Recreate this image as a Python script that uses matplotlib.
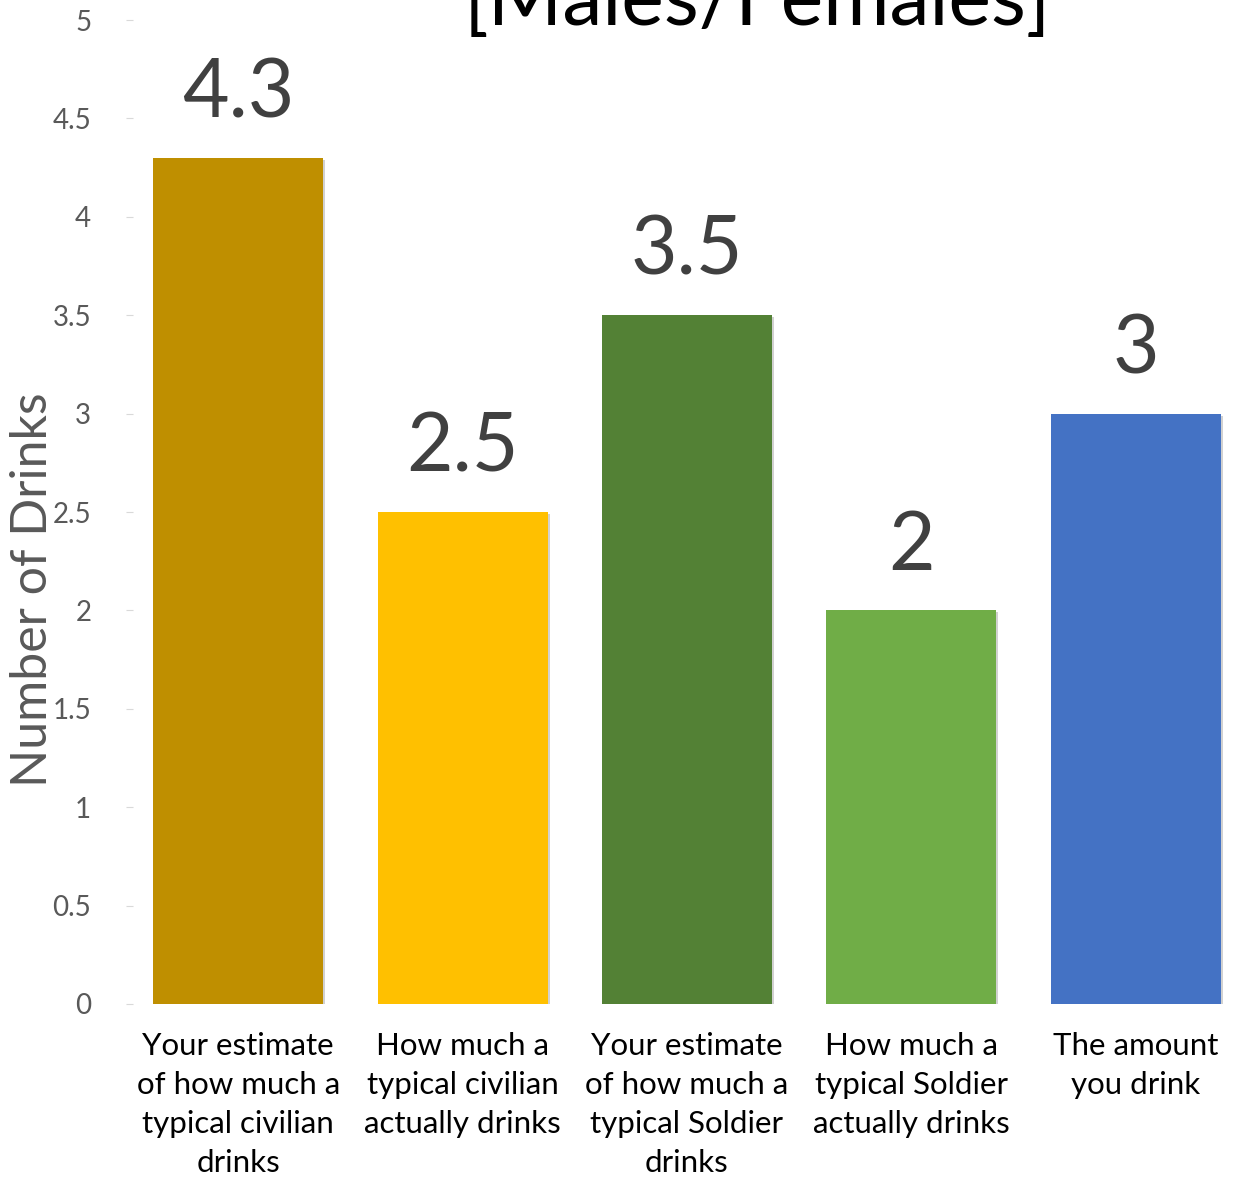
import matplotlib
matplotlib.use("Agg")
import matplotlib.pyplot as plt
import matplotlib.patheffects as pe

plt.rcParams['font.family'] = ['Lato', 'DejaVu Sans']

categories = [
    "Your estimate\nof how much a\ntypical civilian\ndrinks",
    "How much a\ntypical civilian\nactually drinks",
    "Your estimate\nof how much a\ntypical Soldier\ndrinks",
    "How much a\ntypical Soldier\nactually drinks",
    "The amount\nyou drink",
]
values = [4.3, 2.5, 3.5, 2.0, 3.0]
value_labels = ["4.3", "2.5", "3.5", "2", "3"]
colors = ["#BF8F00", "#FFC000", "#538135", "#70AD47", "#4472C4"]
yticks = [0, 0.5, 1, 1.5, 2, 2.5, 3, 3.5, 4, 4.5, 5]
ytick_labels = ["0", "0.5", "1", "1.5", "2", "2.5", "3", "3.5", "4", "4.5", "5"]
title = "[Males/Females]"
ylabel = "Number of Drinks"

W, H = 1237, 1184
fig = plt.figure(figsize=(W / 100, H / 100), dpi=100)
left_px, right_px = 126, 1237
top_px, bottom_px = 20, 1004
ax = fig.add_axes([left_px / W, 1 - bottom_px / H, (right_px - left_px) / W, (bottom_px - top_px) / H])

x = list(range(len(values)))
bars = ax.bar(x, values, width=0.757, color=colors, zorder=3)
for b in bars:
    b.set_path_effects([pe.SimplePatchShadow(offset=(1.5, -1.5), shadow_rgbFace='#000000', alpha=0.18, rho=1.0),
                        pe.Normal()])

step = 224.4
ax.set_xlim(-0.5, -0.5 + (right_px - left_px) / step)
ax.set_ylim(0, 5)

for xi, v, lab in zip(x, values, value_labels):
    ax.annotate(lab, (xi, v), xytext=(0, 29), textcoords='offset points',
                ha='center', va='baseline', fontsize=58, color='#404040')

ax.set_yticks(yticks)
ax.set_yticklabels(ytick_labels, fontsize=20, color='#595959')
ax.tick_params(axis='y', direction='in', length=5, color='#D9D9D9', pad=25)
ax.set_xticks(x)
ax.set_xticklabels(categories, fontsize=22.5, color='black', linespacing=1.48)
ax.tick_params(axis='x', length=0, pad=20)
for s in ax.spines.values():
    s.set_visible(False)

fig.text(33 / W, 1 - 590 / H, ylabel, rotation=90, ha='center', va='center',
         fontsize=36, color='#595959')
fig.text(757 / W, 1 - 25 / H, title, ha='center', va='baseline', fontsize=58, color='black')

fig.savefig("out.png", dpi=100, facecolor='white')
